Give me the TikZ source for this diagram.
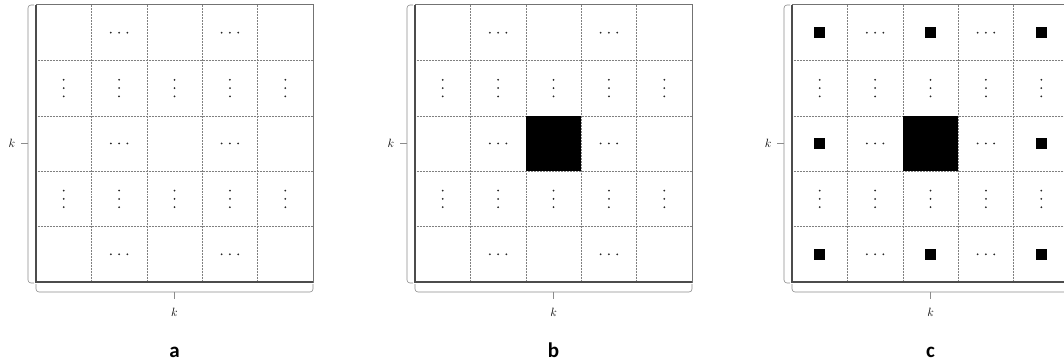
\documentclass[tikz,border=0pt]{standalone}
\usepackage{fontspec}
\newfontfamily\labelfont{Carlito}
\tikzset{
  outer/.style={draw=black!55, line width=1pt},
  outerdark/.style={draw=black!70, line width=1.1pt},
  inner/.style={draw=black!50, line width=0.5pt, densely dotted},
  bracestyle/.style={draw=black!45, line width=0.6pt, rounded corners=3pt},
  dotmark/.style={fill=black!85, circle, inner sep=0pt, minimum size=2pt},
  klabel/.style={font=\fontsize{12}{14}\selectfont, inner sep=0pt},
  plabel/.style={font=\labelfont\bfseries\fontsize{21}{24}\selectfont, inner sep=0pt},
  smallsq/.style={fill=black},
  panel/.pic={
    % inner grid
    \foreach \i in {1,...,4} {
      \draw[inner] (\i*55.4,0) -- (\i*55.4,277);
      \draw[inner] (0,\i*55.4) -- (277,\i*55.4);
    }
    % horizontal dots
    \foreach \r in {0,2,4} {
      \foreach \c in {1,3} {
        \foreach \d in {-8.3,0,8.3} {
          \node[dotmark] at (\c*55.4+27.7+\d, \r*55.4+27.7) {};
        }
      }
    }
    % vertical dots
    \foreach \r in {1,3} {
      \foreach \c in {0,...,4} {
        \foreach \d in {-8.3,0,8.3} {
          \node[dotmark] at (\c*55.4+27.7, \r*55.4+27.7+\d) {};
        }
      }
    }
    % outer frame
    \draw[outer] (0,0) rectangle (277,277);
    \draw[outerdark] (0,0) -- (0,277) -- (277,277);
    % left brace
    \coordinate (-lt) at (-2,0);
    \coordinate (-lb) at (-2,278);
    \draw[bracestyle] (-lt) -- (-8,0) -- (-8,278) -- (-lb);
    \draw[bracestyle] (-8,138.5) -- (-15,138.5);
    \node[klabel] (-kl) at (-24,138.5) {$k$};
    % bottom brace
    \draw[bracestyle] (0,279) -- (0,287) -- (277,287) -- (277,279);
    \draw[bracestyle] (138.5,287) -- (138.5,294);
    \node[klabel] (-kb) at (138.5,307) {$k$};
  }
}
\begin{document}
\begin{tikzpicture}[x=1pt,y=-1pt]
  \useasboundingbox (0,0) rectangle (1064,363);
  \clip (0,0) rectangle (1064,363);
  % panel a
  \pic (pa) at (36,5) {panel};
  % panel b
  \pic (pb) at (415,5) {panel};
  \fill[black] (415+2*55.4,5+2*55.4) rectangle (415+3*55.4,5+3*55.4);
  % panel c
  \pic (pc) at (792,5) {panel};
  \fill[black] (792+2*55.4,5+2*55.4) rectangle (792+3*55.4,5+3*55.4);
  \foreach \r in {0,2,4} {
    \foreach \c in {0,2,4} {
      \ifnum\r\c=22\else
        \fill[smallsq] (792+\c*55.4+27.7-5.5,5+\r*55.4+27.7-5.5) rectangle ++(11,11);
      \fi
    }
  }
  % labels
  \node[plabel, anchor=base] (la) at (174.5,357) {a};
  \node[plabel, anchor=base] (lb) at (553.5,357) {b};
  \node[plabel, anchor=base] (lc) at (930.5,357) {c};
\end{tikzpicture}
\end{document}
